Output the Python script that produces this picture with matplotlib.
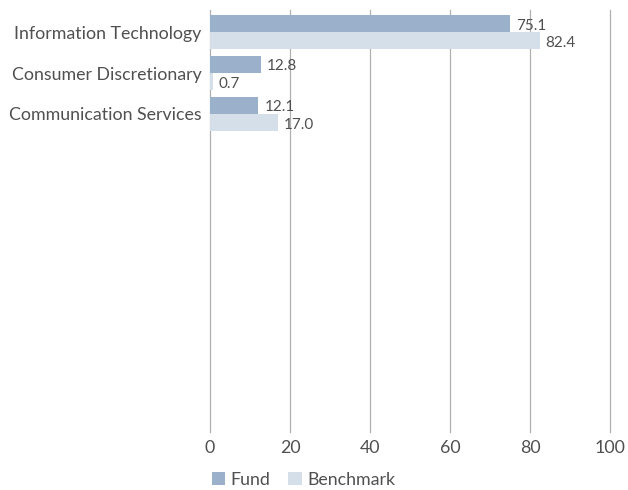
import matplotlib.pyplot as plt
import numpy as np

# sector weights (%)
sectors = ['Information Technology', 'Consumer Discretionary', 'Communication Services']
fund = [75.1, 12.8, 12.1]
benchmark = [82.4, 0.7, 17.0]
xticks = [0, 20, 40, 60, 80, 100]

fund_col = '#9AB0CB'
bench_col = '#D5DFEA'
txt_col = '#505050'

plt.rcParams['font.family'] = ['Lato', 'DejaVu Sans']

fig = plt.figure(figsize=(6.28, 4.9), dpi=100)
ax = fig.add_axes([210/628, 1 - 432/490, 400/628, 422/490])

y = np.arange(len(sectors))
h = 0.42
ax.barh(y - h/2, fund, height=h, color=fund_col, label='Fund')
ax.barh(y + h/2, benchmark, height=h, color=bench_col, label='Benchmark')

for yi, v in zip(y - h/2, fund):
    ax.text(v + 1.5, yi + 0.05, f'{v:.1f}', va='center', ha='left', fontsize=11, color=txt_col)
for yi, v in zip(y + h/2, benchmark):
    ax.text(v + 1.5, yi + 0.05, f'{v:.1f}', va='center', ha='left', fontsize=11, color=txt_col)

ax.set_xlim(0, 100)
ax.set_ylim(9.77, -0.54)
ax.set_xticks(xticks)
ax.set_yticks(y)
ax.set_yticklabels(sectors)
ax.tick_params(length=0, labelsize=12.8, colors=txt_col)
ax.tick_params(axis='x', pad=6)
ax.tick_params(axis='y', pad=6)
ax.grid(axis='x', color='#b0b0b0', linewidth=0.9)
for gl in ax.get_xgridlines():
    gl.set_clip_on(False)
ax.set_axisbelow(True)
for s in ax.spines.values():
    s.set_visible(False)

leg = fig.legend(loc='center left', bbox_to_anchor=(212/628, 1 - 480/490), ncol=2, frameon=False,
                 fontsize=12.8, handlelength=0.75, handleheight=0.75, handletextpad=0.3,
                 columnspacing=1.0, labelcolor=txt_col, borderaxespad=0, borderpad=0)

fig.savefig('out.png', dpi=100)
